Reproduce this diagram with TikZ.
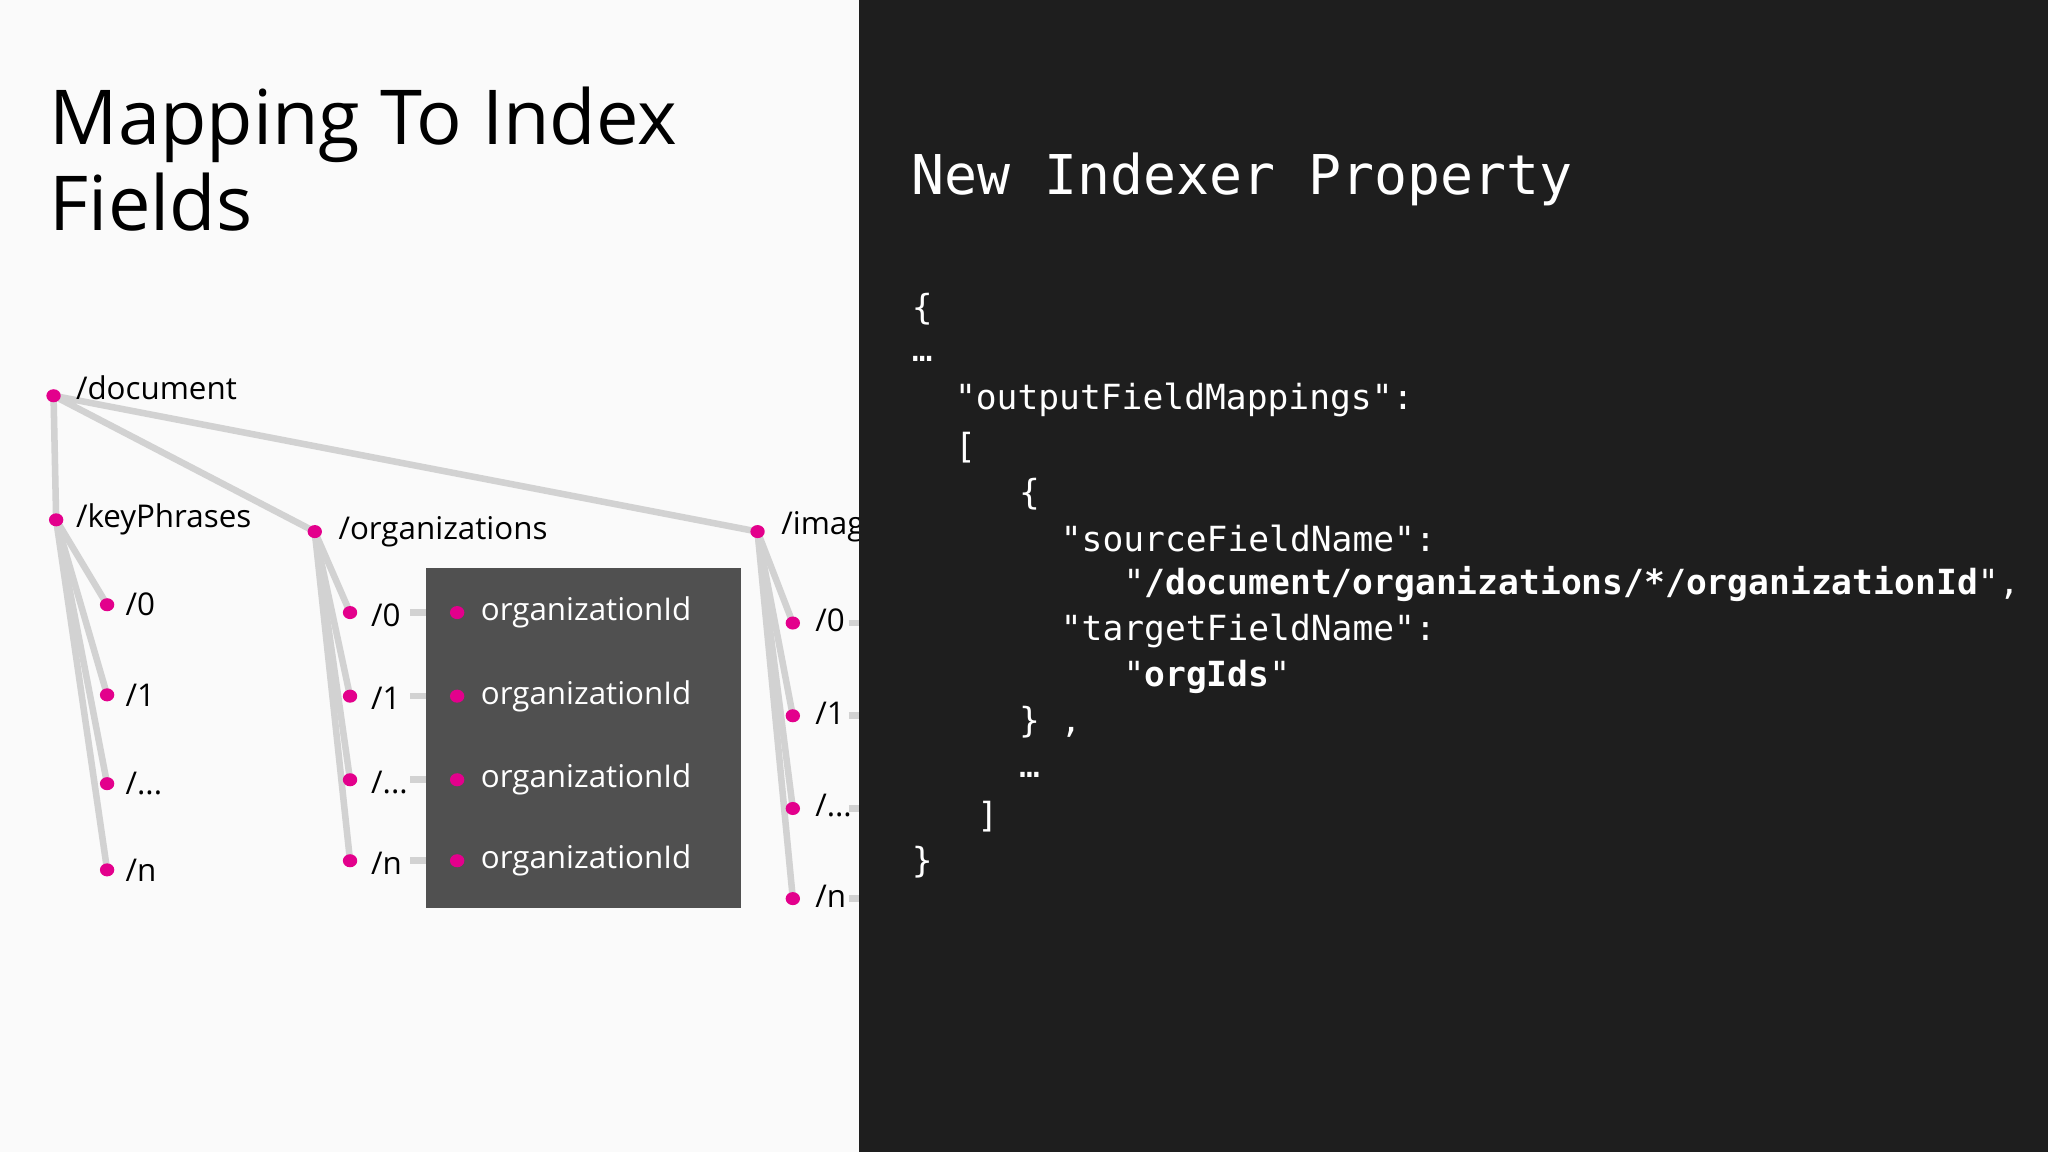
\documentclass[tikz,border=0pt]{standalone}
\usepackage{fontspec}
\usetikzlibrary{shapes.geometric,calc}
\setmainfont{Open Sans}
\newfontfamily\codefont{DejaVu Sans Mono}
\definecolor{mag}{HTML}{E3008C}
\definecolor{ln}{HTML}{D2D2D2}
\definecolor{dark}{HTML}{1E1E1E}
\definecolor{boxg}{HTML}{505050}
\begin{document}
\begin{tikzpicture}[x=1pt,y=-1pt,
  dot/.style={ellipse,fill=mag,minimum width=11pt,minimum height=10pt,inner sep=0pt},
  edge/.style={draw=ln,line width=5pt},
  lbl/.style={anchor=west,font=\fontsize{24}{24}\selectfont,text=black,inner sep=0pt},
  wl/.style={anchor=west,font=\fontsize{24}{24}\selectfont,text=white,inner sep=0pt},
  code/.style={anchor=west,font=\codefont\fontsize{26.5}{26.5}\selectfont,text=white,inner sep=0pt}]
\fill[white!98!black] (0,0) rectangle (658,882);
\useasboundingbox (0,0) rectangle (1568,882);
\node[font=\fontsize{58}{66}\selectfont,anchor=north west,align=left,inner sep=0pt] (title) at (38,66) {Mapping To Index\\Fields};
\coordinate (doc) at (41,303);
\coordinate (kp) at (43,398);
\coordinate (org) at (241,407);
\coordinate (img) at (580,407);
\foreach \n/\y in {0/463,1/532,2/600,3/666}{\coordinate (k\n) at (82,\y);}
\foreach \n/\y in {0/469,1/533,2/597,3/659}{\coordinate (o\n) at (268,\y);\coordinate (oe\n) at (314,\y);\coordinate (od\n) at (350,\y);}
\foreach \n/\y in {0/477,1/548,2/619,3/688}{\coordinate (i\n) at (607,\y);\coordinate (ie\n) at (650,\y);\coordinate (iz\n) at (670,\y);}
\draw[edge] (doc)--(kp) (doc)--(org) (doc)--(img);
\foreach \n in {0,1,2,3}{\draw[edge] (kp)--(k\n); \draw[edge] (org)--(o\n); \draw[edge] (img)--(i\n); \draw[edge] (oe\n)--(od\n); \draw[edge] (ie\n)--(iz\n);}
\fill[boxg] (326,435) rectangle (567,695);
\foreach \p in {doc,kp,org,img,k0,k1,k2,k3,o0,o1,o2,o3,od0,od1,od2,od3,i0,i1,i2,i3}{\node[dot] at (\p) {};}
\node[lbl] (ldoc) at (58,297) {/document};
\node[lbl] (lkp) at (58,398) {/keyPhrases};
\node[lbl] (lorg) at (259,407) {/organizations};
\node[lbl] (limg) at (598,403) {/images};
\foreach \n/\t in {0/{/0},1/{/1},2/{/...},3/{/n}}{
  \node[lbl] at ($(k\n)+(14,0)$) {\t};
  \node[lbl] at ($(o\n)+(16,2)$) {\t};
  \node[lbl] at ($(i\n)+(17,-2)$) {\t};
  \node[wl] at ($(od\n)+(18,0)$) {organizationId};}
\fill[dark] (658,0) rectangle (1568,882);
\node[anchor=west,font=\codefont\fontsize{42}{42}\selectfont,text=white,inner sep=0pt] (h) at (698,137) {New Indexer Property};
\node[code] at (698,237) {\{};
\node[code] at (698,275) {…};
\node[code] at (731,306) {"outputFieldMappings":};
\node[code] at (731,343) {[};
\node[code] at (780,378) {\{};
\node[code] at (812,412) {"sourceFieldName":};
\node[code] at (860,447) {"\textbf{/document/organizations/*/organizationId}",};
\node[code] at (812,483) {"targetFieldName":};
\node[code] at (860,518) {"\textbf{orgIds}"};
\node[code] at (780,553) {\} ,};
\node[code] at (780,593) {…};
\node[code] at (748,625) {]};
\node[code] at (698,660) {\}};
\end{tikzpicture}
\end{document}
